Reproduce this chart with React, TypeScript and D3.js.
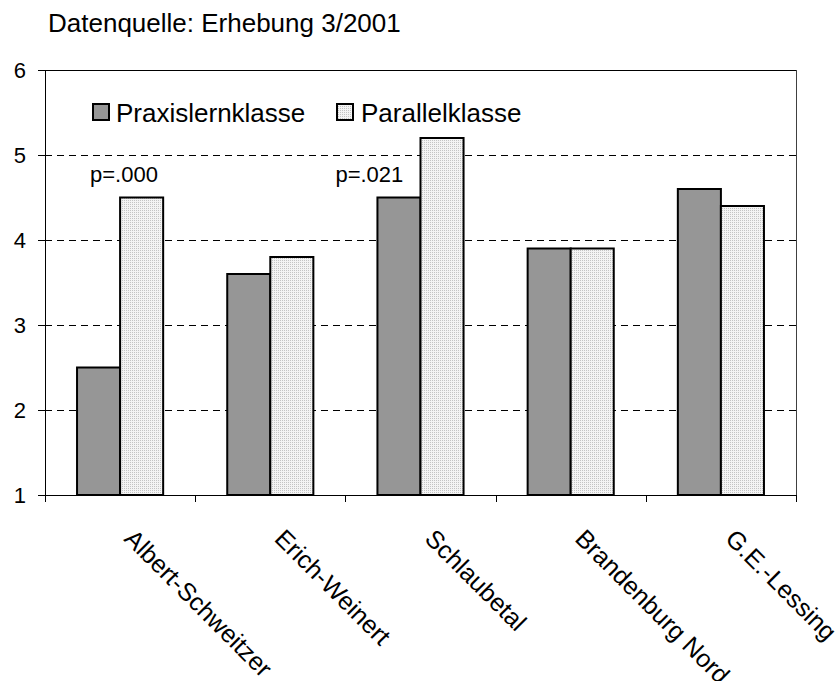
import React from "react";
import * as d3 from "d3";

const categories = ["Albert-Schweitzer", "Erich-Weinert", "Schlaubetal", "Brandenburg Nord", "G.E.-Lessing"];
const praxis = [2.5, 3.6, 4.5, 3.9, 4.6];
const parallel = [4.5, 3.8, 5.2, 3.9, 4.4];
const seriesNames = ["Praxislernklasse", "Parallelklasse"];
const yTicks = [1, 2, 3, 4, 5, 6];
const annotations = [
  { cat: "Albert-Schweitzer", text: "p=.000", y: 4.68, dx: 45 },
  { cat: "Schlaubetal", text: "p=.021", y: 4.68, dx: -10 },
];
const title = "Datenquelle: Erhebung 3/2001";

const W = 839, H = 681;
const L = 45, R = 796, T = 70, B = 495;
const FONT = "'Liberation Sans', Arial, sans-serif";

export default function App() {
  const x = d3.scaleBand<string>().domain(categories).range([L, R]).paddingInner(0).paddingOuter(0);
  const y = d3.scaleLinear().domain([1, 6]).range([B, T]);
  const bw = x.bandwidth();
  const inner = d3.scaleBand<string>().domain(seriesNames).range([0, bw]).paddingInner(0).paddingOuter(0.744);
  const fills = ["#969696", "url(#dots)"];
  const data = [praxis, parallel];

  return (
    <svg width={W} height={H} style={{ position: "absolute", left: 0, top: 0, background: "#fff" }} fontFamily={FONT}>
      <defs>
        <pattern id="dots" width="2" height="2" patternUnits="userSpaceOnUse">
          <rect width="2" height="2" fill="#f4f4f4" />
          <rect width="1" height="1" fill="#c4c4c4" />
        </pattern>
      </defs>
      <rect width={W} height={H} fill="#fff" />
      <text x={48} y={32} fontSize={26} fill="#000">{title}</text>

      {/* gridlines */}
      {yTicks.filter(t => t > 1 && t < 6).map(t => (
        <line key={t} x1={L} x2={R} y1={Math.round(y(t)) + 0.5} y2={Math.round(y(t)) + 0.5} stroke="#000" strokeWidth={1} strokeDasharray="7,5" />
      ))}
      {/* top and right border */}
      <line x1={L} x2={R} y1={y(6) + 0.5} y2={y(6) + 0.5} stroke="#000" strokeWidth={1} />
      <line x1={R + 0.5} x2={R + 0.5} y1={T} y2={B} stroke="#404040" strokeWidth={1} />

      {/* bars */}
      {data.map((vals, si) =>
        vals.map((v, ci) => {
          const bx = (x(categories[ci]) as number) + (inner(seriesNames[si]) as number);
          return (
            <rect key={si + "-" + ci} x={bx} y={y(v)} width={inner.bandwidth()} height={B - y(v)}
              fill={fills[si]} stroke="#000" strokeWidth={2} />
          );
        })
      )}

      {/* axes */}
      <line x1={L + 0.5} x2={L + 0.5} y1={T} y2={B} stroke="#000" strokeWidth={1} />
      <line x1={L} x2={R} y1={B + 0.5} y2={B + 0.5} stroke="#000" strokeWidth={1} />
      {yTicks.map(t => (
        <g key={t}>
          <line x1={L - 7} x2={L} y1={Math.round(y(t)) + 0.5} y2={Math.round(y(t)) + 0.5} stroke="#000" />
          <text x={26} y={y(t)} dy="0.36em" textAnchor="end" fontSize={22} fill="#000">{t}</text>
        </g>
      ))}
      {categories.map((c, i) => (
        <line key={"t" + i} x1={Math.round(x(c) as number) + 0.5} x2={Math.round(x(c) as number) + 0.5} y1={B} y2={B + 7} stroke="#000" />
      ))}
      <line x1={R + 0.5} x2={R + 0.5} y1={B} y2={B + 7} stroke="#000" />

      {/* category labels */}
      {categories.map(c => {
        const cx = (x(c) as number) + bw / 2 + 3;
        const cy = 540;
        return (
          <text key={c} x={cx} y={cy} fontSize={25} fill="#000" transform={`rotate(45 ${cx} ${cy})`}>{c}</text>
        );
      })}

      {/* annotations */}
      {annotations.map(a => (
        <text key={a.text} x={(x(a.cat) as number) + a.dx} y={y(a.y)} fontSize={22} fill="#000">{a.text}</text>
      ))}

      {/* legend */}
      <rect x={93} y={104} width={16} height={16} fill={fills[0]} stroke="#000" strokeWidth={2} />
      <text x={116} y={122} fontSize={26} fill="#000">{seriesNames[0]}</text>
      <rect x={337} y={104} width={16} height={16} fill={fills[1]} stroke="#000" strokeWidth={2} />
      <text x={361} y={122} fontSize={26} fill="#000">{seriesNames[1]}</text>
    </svg>
  );
}
